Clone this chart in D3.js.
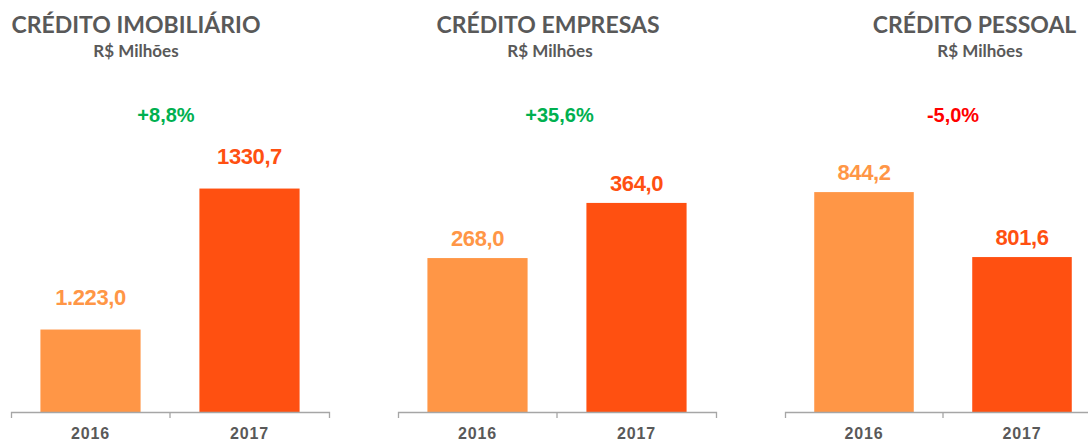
<!DOCTYPE html>
<html>
<head>
<meta charset="utf-8">
<script src="https://cdn.jsdelivr.net/npm/d3@7"></script>
<style>
  html, body { margin: 0; padding: 0; background: #fff; }
  svg { display: block; }
</style>
</head>
<body>
<svg id="chart" width="1088" height="443"></svg>
<script>
// Data
const titles = ["CRÉDITO IMOBILIÁRIO", "CRÉDITO EMPRESAS", "CRÉDITO PESSOAL"];
const subtitle = "R$ Milhões";
const years = ["2016", "2017"];
const values2016 = [1223.0, 268.0, 844.2];
const values2017 = [1330.7, 364.0, 801.6];
const labels2016 = ["1.223,0", "268,0", "844,2"];
const labels2017 = ["1330,7", "364,0", "801,6"];
const changes = ["+8,8%", "+35,6%", "-5,0%"];
const axisMin = [1160, 0, 700];
const axisMax = [1393, 531, 900];

// Layout
const panels = [
  { x0: 11,  x1: 329,  titleX: 136,   subX: 136, pctDx: -4,  gap: 25 },
  { x0: 398, x1: 716,  titleX: 548,   subX: 550, pctDx: 2.5, gap: 12 },
  { x0: 785, x1: 1101, titleX: 974.5, subX: 980, pctDx: 10,  gap: 12 }
];
const baseY = 412, topY = 107;
const barColors = ["#FF9646", "#FF5011"];
const axisColor = "#A6A6A6";
const textGray = "#595959";

const svg = d3.select("#chart");

panels.forEach((p, i) => {
  const g = svg.append("g");
  const vals = [values2016[i], values2017[i]];
  const labels = [labels2016[i], labels2017[i]];

  const x = d3.scaleBand().domain(years).range([p.x0, p.x1])
    .paddingInner(0.37).paddingOuter(0.185);
  const y = d3.scaleLinear().domain([axisMin[i], axisMax[i]]).range([baseY, topY]);

  // Title and unit
  g.append("text").attr("x", p.titleX).attr("y", 33)
    .attr("text-anchor", "middle")
    .style("font-family", "Lato, 'Open Sans', sans-serif")
    .style("font-weight", 700).style("font-size", "23px")
    .attr("fill", textGray).text(titles[i]);
  g.append("text").attr("x", p.subX).attr("y", 57)
    .attr("text-anchor", "middle")
    .style("font-family", "Lato, 'Open Sans', sans-serif")
    .style("font-weight", 700).style("font-size", "17px")
    .attr("fill", textGray).text(subtitle);

  // Bars
  g.selectAll("rect.bar").data(years).join("rect")
    .attr("class", "bar")
    .attr("x", d => x(d))
    .attr("width", x.bandwidth())
    .attr("y", (d, j) => y(vals[j]))
    .attr("height", (d, j) => baseY - y(vals[j]))
    .attr("fill", (d, j) => barColors[j]);

  // Value labels
  g.selectAll("text.val").data(years).join("text")
    .attr("class", "val")
    .attr("x", d => x(d) + x.bandwidth() / 2)
    .attr("y", (d, j) => y(vals[j]) - p.gap)
    .attr("text-anchor", "middle")
    .style("font-family", "'Liberation Sans', Arial, sans-serif")
    .style("font-weight", 700).style("font-size", "22px")
    .style("letter-spacing", "-0.4px")
    .attr("fill", (d, j) => barColors[j])
    .text((d, j) => labels[j]);

  // Category axis
  const axis = d3.axisBottom(x).tickSize(0).tickSizeOuter(6).tickPadding(0);
  const ag = g.append("g").attr("transform", `translate(0,${baseY})`).call(axis);
  ag.select(".domain").attr("stroke", axisColor).attr("stroke-width", 1.3);
  ag.selectAll(".tick text")
    .style("font-family", "'Liberation Sans', Arial, sans-serif")
    .style("font-weight", 700).style("font-size", "16px")
    .style("letter-spacing", "0.8px")
    .attr("fill", textGray)
    .attr("y", 27)
    .attr("dy", null);

  // Divider tick between the two categories
  const mid = x(years[1]) - x.step() * x.paddingInner() / 2;
  ag.append("line").attr("x1", mid).attr("x2", mid).attr("y1", 0).attr("y2", 6)
    .attr("stroke", axisColor).attr("stroke-width", 1.3);

  // Year-over-year change
  g.append("text").attr("x", mid + p.pctDx).attr("y", 122)
    .attr("text-anchor", "middle")
    .style("font-family", "'Liberation Sans', Arial, sans-serif")
    .style("font-weight", 700).style("font-size", "20px")
    .attr("fill", changes[i].startsWith("-") ? "#FF0000" : "#00B050")
    .text(changes[i]);
});
</script>
</body>
</html>
